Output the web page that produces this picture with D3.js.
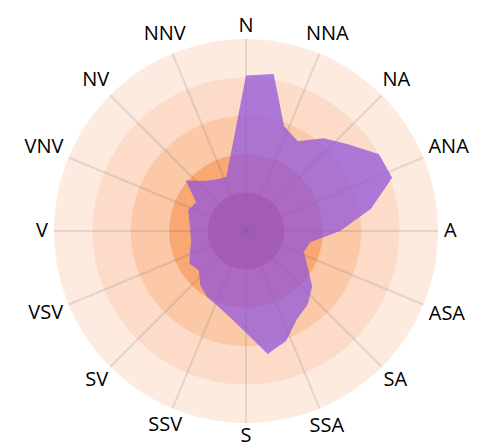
<!DOCTYPE html>
<html>
<head>
<meta charset="utf-8">
<script src="https://cdn.jsdelivr.net/npm/d3@7"></script>
<style>
  body { margin: 0; background: #fff; }
  text { font-family: "Open Sans", "Noto Sans", sans-serif; }
</style>
</head>
<body>
<script>
// compass labels, clockwise from north
var directions = ["N", "NNA", "NA", "ANA", "A", "ASA", "SA", "SSA",
                  "S", "SSV", "SV", "VSV", "V", "VNV", "NV", "NNV"];

// bearing of each sample (degrees) and the value measured there
var bearings = [0, 10, 20, 30, 40, 50, 60, 70, 80, 90, 100, 110,
                120, 130, 140, 150, 160, 170, 180, 190, 200, 210, 220, 230,
                240, 250, 260, 270, 280, 290, 300, 310, 320, 330, 340, 350];
var values = [81, 83, 58, 54, 63, 70, 80, 81, 66, 49, 34, 32,
              37, 45, 50, 53, 61, 65, 53, 46, 42, 40, 37, 32,
              34, 31, 29, 29, 30, 32, 30, 41, 34, 31, 30, 43];

// ring levels
var rings = [20, 40, 60, 80, 100];
var ringColors = ["#d9703f", "#f9a773", "#fbc9a8", "#fcdcc8", "#fdebe0"];

var width = 488, height = 447;
var cx = 246, cy = 231, radius = 192;

var svg = d3.select("body").append("svg")
  .attr("width", width)
  .attr("height", height);

var g = svg.append("g")
  .attr("transform", "translate(" + cx + "," + cy + ")");

var r = d3.scaleLinear().domain([0, 100]).range([0, radius]);
var angle = d3.scaleLinear().domain([0, 360]).range([0, 2 * Math.PI]);

// bands, biggest first
g.selectAll("circle.ring")
  .data(rings.slice().reverse())
  .enter()
  .append("circle")
  .attr("class", "ring")
  .attr("r", function(d) { return r(d); })
  .style("fill", function(d) { return ringColors[rings.indexOf(d)]; });

// spokes
var step = 360 / directions.length;
g.selectAll("line.spoke")
  .data(directions)
  .enter()
  .append("line")
  .attr("class", "spoke")
  .attr("x1", 0).attr("y1", 0)
  .attr("x2", function(d, i) { return r(100) * Math.sin(angle(i * step)); })
  .attr("y2", function(d, i) { return -r(100) * Math.cos(angle(i * step)); })
  .style("stroke", "rgba(80,80,80,0.14)")
  .style("stroke-width", 2);

// the area
var radial = d3.lineRadial()
  .angle(function(d, i) { return angle(bearings[i]); })
  .radius(function(d) { return r(d); })
  .curve(d3.curveLinearClosed);

g.append("path")
  .datum(values)
  .attr("d", radial)
  .style("fill", "rgb(145,85,220)")
  .style("fill-opacity", 0.75);

// labels
var labels = g.selectAll("text.dir")
  .data(directions)
  .enter()
  .append("text")
  .attr("class", "dir")
  .attr("text-anchor", "middle")
  .attr("dominant-baseline", "central")
  .style("font-size", "20px")
  .style("fill", "#000")
  .text(function(d) { return d; });

labels.each(function(d, i) {
  var a = angle(i * step);
  var w = this.getComputedTextLength();
  var rr = 198 + (w / 2) * Math.abs(Math.sin(a)) + 7 * Math.abs(Math.cos(a));
  d3.select(this)
    .attr("x", rr * Math.sin(a))
    .attr("y", -rr * Math.cos(a) - 2);
});
</script>
</body>
</html>
